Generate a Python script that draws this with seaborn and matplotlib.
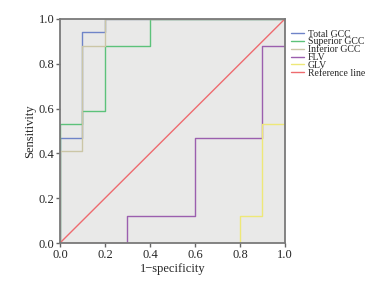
import numpy as np
import pandas as pd
import seaborn as sns
import matplotlib.pyplot as plt

# ROC curve vertices (1-specificity, sensitivity)
total_fpr = [0.0, 0.0, 0.1, 0.1, 0.2, 0.2, 1.0]
total_tpr = [0.0, 0.47, 0.47, 0.94, 0.94, 1.0, 1.0]
sup_fpr = [0.0, 0.0, 0.1, 0.1, 0.2, 0.2, 0.4, 0.4, 1.0]
sup_tpr = [0.0, 0.53, 0.53, 0.59, 0.59, 0.88, 0.88, 1.0, 1.0]
inf_fpr = [0.0, 0.0, 0.1, 0.1, 0.2, 0.2, 1.0]
inf_tpr = [0.0, 0.41, 0.41, 0.88, 0.88, 1.0, 1.0]
flv_fpr = [0.0, 0.3, 0.3, 0.6, 0.6, 0.9, 0.9, 1.0, 1.0]
flv_tpr = [0.0, 0.0, 0.12, 0.12, 0.47, 0.47, 0.88, 0.88, 1.0]
glv_fpr = [0.0, 0.8, 0.8, 0.9, 0.9, 1.0, 1.0]
glv_tpr = [0.0, 0.0, 0.12, 0.12, 0.53, 0.53, 1.0]
ref_fpr = [0.0, 1.0]
ref_tpr = [0.0, 1.0]

labels = ['Total GCC', 'Superior GCC', 'Inferior GCC', 'FLV', 'GLV', 'Reference line']
colors = ['#6f84c8', '#5cc27a', '#cbc6a6', '#9b5fae', '#eee878', '#ee6b6f']
curves = [(total_fpr, total_tpr), (sup_fpr, sup_tpr), (inf_fpr, inf_tpr),
          (flv_fpr, flv_tpr), (glv_fpr, glv_tpr), (ref_fpr, ref_tpr)]

sns.set_style('ticks')
plt.rcParams['font.family'] = ['Liberation Serif', 'DejaVu Serif']

fig = plt.figure(figsize=(3.72, 2.82), dpi=100)
ax = fig.add_axes([0.161, 0.138, 0.605, 0.795])
ax.set_facecolor('#e9e9e8')

for lab, col, (fx, ty) in zip(labels, colors, curves):
    df = pd.DataFrame({'x': fx, 'y': ty})
    sns.lineplot(data=df, x='x', y='y', ax=ax, sort=False, estimator=None,
                 color=col, lw=1.0, label=lab)

ax.set_xlim(0, 1)
ax.set_ylim(0, 1)
ax.set_xticks([0, 0.2, 0.4, 0.6, 0.8, 1.0])
ax.set_yticks([0, 0.2, 0.4, 0.6, 0.8, 1.0])
ax.set_xticklabels(['0.0', '0.2', '0.4', '0.6', '0.8', '1.0'])
ax.set_yticklabels(['0.0', '0.2', '0.4', '0.6', '0.8', '1.0'])
ax.tick_params(labelsize=9, length=3, width=1, color='#666666', pad=1)
for s in ax.spines.values():
    s.set_color('#7a7a7a')
    s.set_linewidth(1.3)
ax.set_xlabel('1\u2212specificity', fontsize=9, labelpad=2)
ax.set_ylabel('Sensitivity', fontsize=9, labelpad=2)

leg = ax.legend(loc='upper left', bbox_to_anchor=(1.01, 0.97), frameon=False,
                fontsize=7, labelspacing=-0.12, handlelength=1.3,
                handletextpad=0.4, borderaxespad=0)

fig.savefig('out.png', dpi=100)
